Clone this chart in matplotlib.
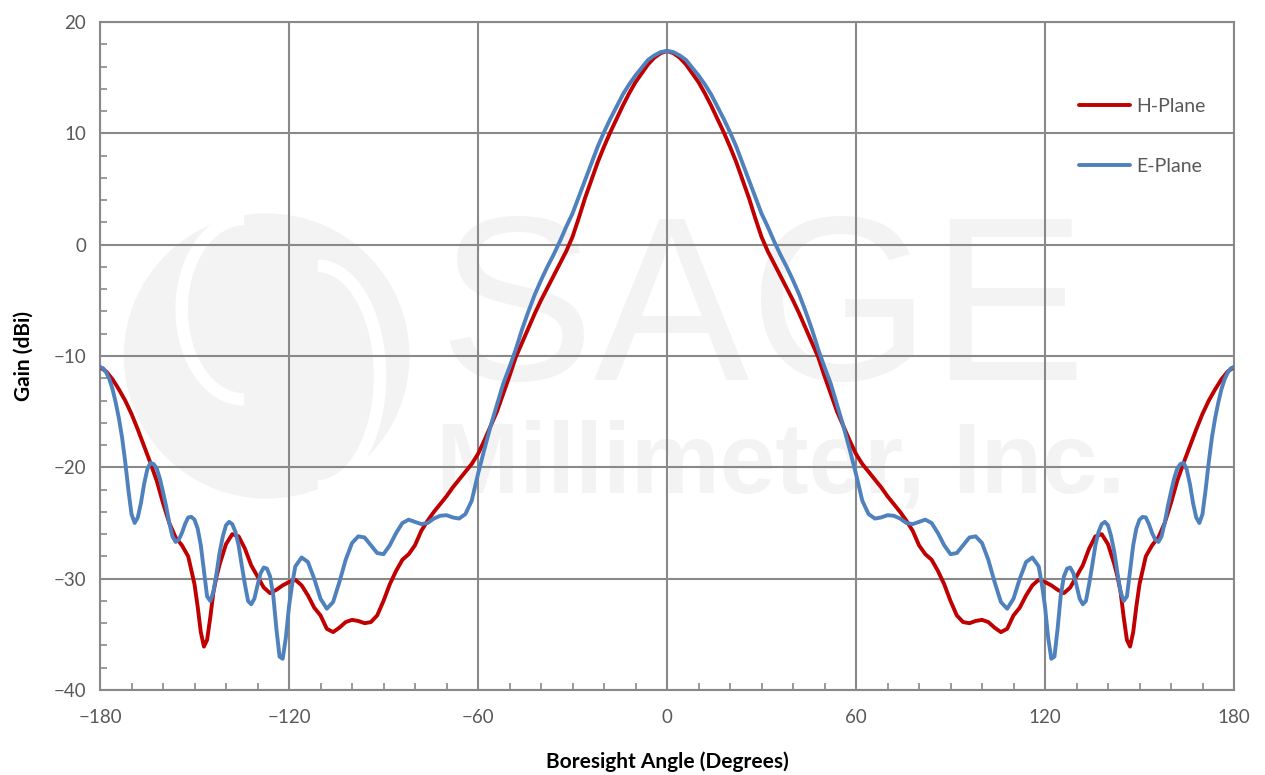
import matplotlib
matplotlib.use("Agg")
import matplotlib.pyplot as plt
from matplotlib.patches import Ellipse, Arc
from matplotlib.ticker import MultipleLocator

# ---- data ----
angle_h = [-180, -178, -176, -174, -172, -170, -168, -166, -164, -162, -160, -158, -156, -154, -152,
           -150, -149, -148, -147, -146, -145, -144, -143, -142, -141, -140, -138, -136, -134, -132,
           -130, -128, -126, -124, -122, -120, -118, -116, -114, -112, -110, -108, -106, -104, -102,
           -100, -98, -96, -94, -92, -90, -88, -86, -84, -82, -80, -78, -76, -74, -72, -70, -68, -66,
           -64, -62, -60, -58, -56, -54, -52, -50, -48, -46, -44, -42, -40, -38, -36, -34, -32, -30,
           -28, -26, -24, -22, -20, -18, -16, -14, -12, -10, -8, -6, -4, -2, 0,
           2, 4, 6, 8, 10, 12, 14, 16, 18, 20, 22, 24, 26, 28, 30, 32, 34, 36, 38, 40, 42, 44, 46,
           48, 50, 52, 54, 56, 58, 60, 62, 64, 66, 68, 70, 72, 74, 76, 78, 80, 82, 84, 86, 88, 90,
           92, 94, 96, 98, 100, 102, 104, 106, 108, 110, 112, 114, 116, 118, 120, 122, 124, 126,
           128, 130, 132, 134, 136, 138, 140, 141, 142, 143, 144, 145, 146, 147, 148, 149, 150, 152,
           154, 156, 158, 160, 162, 164, 166, 168, 170, 172, 174, 176, 178, 180]
gain_h = [-11.0, -11.4, -12.1, -13.0, -14.0, -15.2, -16.6, -18.1, -19.6, -21.2, -23.2, -25.0, -26.3, -27.0, -28.0,
          -30.5, -32.5, -34.8, -36.1, -35.5, -33.5, -31.2, -29.8, -28.7, -27.8, -26.9, -26.0, -26.2, -27.3, -28.8,
          -29.8, -30.8, -31.3, -31.0, -30.6, -30.3, -30.1, -30.6, -31.5, -32.6, -33.3, -34.5, -34.8, -34.4, -33.9,
          -33.7, -33.8, -34.0, -33.9, -33.3, -32.0, -30.5, -29.3, -28.3, -27.8, -27.0, -25.7, -24.8, -24.0, -23.3, -22.6, -21.8, -21.1,
          -20.4, -19.7, -18.8, -17.6, -16.3, -15.0, -13.4, -11.8, -10.1, -8.8, -7.5, -6.2, -5.0, -3.9, -2.8, -1.7, -0.6, 0.7,
          2.4, 4.2, 5.8, 7.4, 8.8, 10.1, 11.3, 12.5, 13.6, 14.6, 15.4, 16.2, 16.8, 17.2, 17.4,
          17.2, 16.8, 16.2, 15.4, 14.6, 13.6, 12.5, 11.3, 10.1, 8.8, 7.4, 5.8, 4.2, 2.4, 0.7, -0.6, -1.7, -2.8, -3.9, -5.0, -6.2, -7.5, -8.8,
          -10.1, -11.8, -13.4, -15.0, -16.3, -17.6, -18.8, -19.7, -20.4, -21.1, -21.8, -22.6, -23.3, -24.0, -24.8, -25.7, -27.0, -27.8, -28.3, -29.3, -30.5, -32.0,
          -33.3, -33.9, -34.0, -33.8, -33.7, -33.9, -34.4, -34.8, -34.5, -33.3, -32.6, -31.5, -30.6, -30.1, -30.3, -30.6, -31.0, -31.3,
          -30.8, -29.8, -28.8, -27.3, -26.2, -26.0, -26.9, -27.8, -28.7, -29.8, -31.2, -33.5, -35.5, -36.1, -34.8, -32.5, -30.5, -28.0,
          -27.0, -26.3, -25.0, -23.2, -21.2, -19.6, -18.1, -16.6, -15.2, -14.0, -13.0, -12.1, -11.4, -11.0]

angle_e = [-180, -179, -178, -177, -176, -175, -174, -173, -172, -171, -170, -169, -168, -167, -166, -165,
           -164, -163, -162, -161, -160, -159, -158, -157, -156, -155, -154, -153, -152, -151, -150, -149,
           -148, -147, -146, -145, -144, -143, -142, -141, -140, -139, -138, -137, -136, -135, -134, -133,
           -132, -131, -130, -129, -128, -127, -126, -125, -124, -123, -122, -121, -120, -119, -118, -116,
           -114, -112, -110, -108, -106, -104, -102, -100, -98, -96, -94, -92, -90, -88, -86, -84, -82,
           -80, -78, -76, -74, -72, -70, -68, -66, -64, -62, -60, -58, -56, -54, -52, -50, -48, -46, -44,
           -42, -40, -38, -36, -34, -32, -30, -28, -26, -24, -22, -20, -18, -16, -14, -12, -10, -8, -6,
           -4, -2, 0,
           2, 4, 6, 8, 10, 12, 14, 16, 18, 20, 22, 24, 26, 28, 30, 32, 34, 36, 38, 40, 42, 44, 46, 48,
           50, 52, 54, 56, 58, 60, 62, 64, 66, 68, 70, 72, 74, 76, 78, 80, 82, 84, 86, 88, 90, 92, 94,
           96, 98, 100, 102, 104, 106, 108, 110, 112, 114, 116, 118, 119, 120, 121, 122, 123, 124, 125,
           126, 127, 128, 129, 130, 131, 132, 133, 134, 135, 136, 137, 138, 139, 140, 141, 142, 143, 144,
           145, 146, 147, 148, 149, 150, 151, 152, 153, 154, 155, 156, 157, 158, 159, 160, 161, 162, 163,
           164, 165, 166, 167, 168, 169, 170, 171, 172, 173, 174, 175, 176, 177, 178, 179, 180]
gain_e = [-11.0, -11.1, -11.5, -12.1, -13.0, -14.2, -15.6, -17.3, -19.5, -22.0, -24.2, -25.0, -24.5, -23.2, -21.5, -20.2,
          -19.6, -19.7, -20.1, -21.0, -22.2, -23.5, -25.0, -26.2, -26.7, -26.5, -25.9, -25.1, -24.5, -24.45, -24.7, -25.5,
          -27.0, -29.3, -31.6, -32.0, -31.2, -29.5, -27.6, -26.2, -25.2, -24.9, -25.1, -25.8, -27.0, -28.8, -30.5, -32.0,
          -32.3, -31.8, -30.6, -29.5, -29.0, -29.1, -29.8, -31.5, -34.5, -37.0, -37.2, -35.3, -32.5, -30.5, -28.9, -28.1,
          -28.5, -30.0, -31.8, -32.7, -32.1, -30.3, -28.3, -26.8, -26.2, -26.3, -27.0, -27.7, -27.8, -27.0, -25.9, -25.0, -24.7,
          -24.9, -25.1, -25.0, -24.6, -24.35, -24.3, -24.5, -24.6, -24.2, -23.0, -20.6, -18.4, -16.3, -14.4, -12.5, -11.0, -9.4, -7.6, -6.0,
          -4.5, -3.2, -2.0, -0.9, 0.3, 1.6, 2.8, 4.3, 5.8, 7.3, 8.8, 10.1, 11.3, 12.4, 13.5, 14.4, 15.2, 15.9, 16.6,
          17.0, 17.3, 17.4,
          17.3, 17.0, 16.6, 15.9, 15.2, 14.4, 13.5, 12.4, 11.3, 10.1, 8.8, 7.3, 5.8, 4.3, 2.8, 1.6, 0.3, -0.9, -2.0, -3.2, -4.5, -6.0, -7.6, -9.4,
          -11.0, -12.5, -14.4, -16.3, -18.4, -20.6, -23.0, -24.2, -24.6, -24.5, -24.3, -24.35, -24.6, -25.0, -25.1, -24.9, -24.7, -25.0, -25.9, -27.0, -27.8, -27.7, -27.0,
          -26.3, -26.2, -26.8, -28.3, -30.3, -32.1, -32.7, -31.8, -30.0, -28.5, -28.1, -28.9, -30.5, -32.5, -35.3, -37.2, -37.0, -34.5, -31.5,
          -29.8, -29.1, -29.0, -29.5, -30.6, -31.8, -32.3, -32.0, -30.5, -28.8, -27.0, -25.8, -25.1, -24.9, -25.2, -26.2, -27.6, -29.5, -31.2,
          -32.0, -31.6, -29.3, -27.0, -25.5, -24.7, -24.45, -24.5, -25.1, -25.9, -26.5, -26.7, -26.2, -25.0, -23.5, -22.2, -21.0, -20.1, -19.7,
          -19.6, -20.2, -21.5, -23.2, -24.5, -25.0, -24.2, -22.0, -19.5, -17.3, -15.6, -14.2, -13.0, -12.1, -11.5, -11.1, -11.0]

series_names = ["H-Plane", "E-Plane"]
x_ticks = [-180, -120, -60, 0, 60, 120, 180]
y_ticks = [-40, -30, -20, -10, 0, 10, 20]

# ---- figure ----
FONT = ["Lato", "DejaVu Sans"]
plt.rcParams['font.family'] = FONT
TXT = "#595959"
GRID = "#898989"

fig = plt.figure(figsize=(12.65, 7.75), dpi=100)
ax = fig.add_axes([100 / 1265, 1 - 690 / 775, 1134 / 1265, 668 / 775])

ax.set_xlim(-180, 180)
ax.set_ylim(-40, 20)

# watermark (faint logo + text)
wm = "#f3f3f3"
cx, cy, w, h = 0.147, 0.50, 0.252, 0.427
ax.add_patch(Ellipse((cx, cy), w, h, transform=ax.transAxes,
                     facecolor=wm, edgecolor="none", zorder=0))
ax.add_patch(Arc((cx - 0.02, cy + 0.07), 0.11, 0.27, theta1=90, theta2=270,
                 transform=ax.transAxes, color="white", lw=9, zorder=0.1))
ax.add_patch(Arc((cx + 0.045, cy - 0.03), 0.11, 0.33, theta1=-90, theta2=90,
                 transform=ax.transAxes, color="white", lw=9, zorder=0.1))
ax.text(0.584, 0.555, "SAGE", transform=ax.transAxes, fontsize=168, color=wm,
        ha="center", va="center", family=["Liberation Sans", "DejaVu Sans"], zorder=0.3)
ax.text(0.6, 0.335, "Millimeter, Inc.", transform=ax.transAxes, fontsize=72, color=wm,
        ha="center", va="center", family=["Liberation Sans", "DejaVu Sans"],
        fontweight="bold", zorder=0.3)

ax.plot(angle_h, gain_h, color="#C00000", lw=2.8, label=series_names[0], zorder=3,
        solid_capstyle="round", solid_joinstyle="round")
ax.plot(angle_e, gain_e, color="#4F81BD", lw=2.8, label=series_names[1], zorder=4,
        solid_capstyle="round", solid_joinstyle="round")

ax.set_xticks(x_ticks)
ax.set_yticks(y_ticks)
ax.xaxis.set_minor_locator(MultipleLocator(10))
ax.yaxis.set_minor_locator(MultipleLocator(2))
ax.grid(True, which="major", color=GRID, lw=1.5, zorder=1)
ax.set_axisbelow(True)
for s in ax.spines.values():
    s.set_color(GRID)
    s.set_linewidth(1.5)
ax.tick_params(which="major", length=0, labelsize=13.5, labelcolor=TXT, pad=10)
ax.tick_params(axis="x", which="major", pad=14)
ax.tick_params(which="minor", direction="in", length=5, color=GRID, width=1.2)
ax.tick_params(which="minor", top=False, right=False)

ax.set_xlabel("Boresight Angle (Degrees)", fontsize=15, fontweight="bold", color="black", labelpad=18)
ax.set_ylabel("Gain (dBi)", fontsize=15, fontweight="bold", color="black", labelpad=14)

leg = ax.legend(loc="upper right", bbox_to_anchor=(0.99, 0.912), frameon=False, fontsize=14,
                labelspacing=2.2, handlelength=2.6, handletextpad=0.3)
for t in leg.get_texts():
    t.set_color(TXT)

fig.savefig("out.png", dpi=100, facecolor="white")
